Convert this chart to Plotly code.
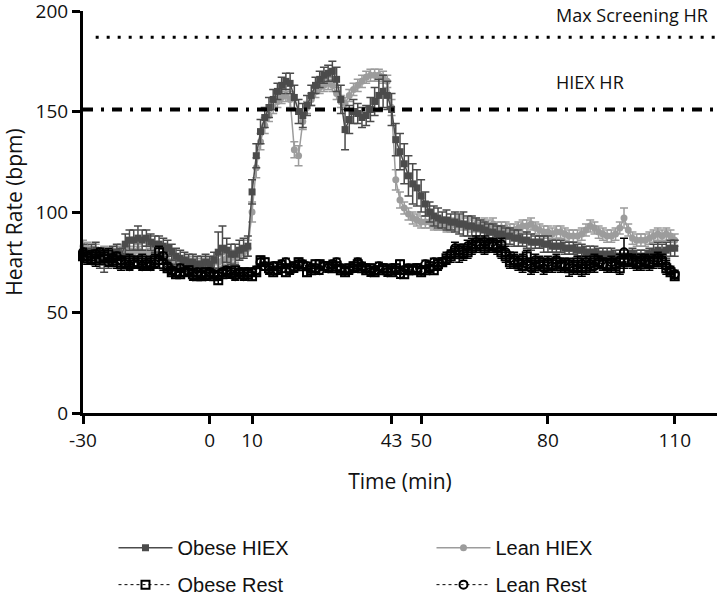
import plotly.graph_objects as go

# Time grid (minutes), 1-min samples from -30 to 110
time_min = list(range(-30, 111))

obese_hiex = [
    80, 78, 79, 81, 77, 75, 76, 79, 80, 78,
    84, 86, 86, 87, 86, 87, 85, 84, 84, 83,
    82, 80, 78, 77, 76, 75, 75, 74, 74, 75,
    74, 76, 80, 82, 81, 79, 79, 81, 82, 83,
    110, 128, 140, 147, 152, 156, 160, 163, 165, 164,
    157, 150, 148, 153, 158, 163, 166, 168, 169, 170,
    166, 156, 141, 146, 150, 149, 147, 148, 151, 155,
    158, 160, 158, 151, 136, 130, 124, 118, 114, 112,
    108, 104, 100, 98, 97, 96, 96, 95, 95, 94,
    94, 93, 93, 92, 92, 91, 90, 90, 89, 89,
    88, 88, 87, 87, 86, 86, 85, 85, 85, 84,
    84, 83, 83, 83, 82, 82, 82, 81, 81, 80,
    80, 80, 79, 79, 79, 79, 78, 78, 78, 78,
    79, 78, 78, 78, 79, 80, 81, 80, 81, 82, 82,
]
obese_hiex_err = [
    4, 4, 5, 4, 5, 5, 4, 4, 4, 4,
    5, 5, 5, 6, 5, 4, 4, 4, 4, 4,
    4, 4, 4, 4, 4, 4, 4, 4, 4, 4,
    4, 4, 10, 11, 6, 5, 5, 5, 5, 5,
    6, 6, 6, 5, 5, 5, 4, 4, 4, 5,
    6, 6, 6, 5, 5, 4, 4, 4, 4, 5,
    6, 7, 10, 7, 6, 5, 5, 5, 6, 7,
    8, 8, 7, 8, 8, 9, 10, 10, 10, 9,
    8, 6, 5, 5, 5, 4, 5, 4, 5, 5,
    6, 5, 5, 5, 4, 4, 4, 4, 4, 4,
    4, 4, 4, 4, 3, 4, 4, 3, 3, 4,
    4, 3, 3, 3, 3, 3, 3, 3, 3, 3,
    3, 3, 3, 3, 3, 3, 3, 3, 3, 3,
    3, 3, 3, 3, 3, 4, 4, 4, 4, 4, 4,
]
lean_hiex = [
    83, 82, 80, 81, 79, 80, 78, 79, 80, 81,
    80, 79, 80, 81, 80, 80, 79, 80, 79, 77,
    76, 75, 75, 74, 74, 75, 74, 74, 73, 74,
    74, 75, 75, 76, 77, 77, 78, 79, 80, 82,
    100, 122, 135, 143, 148, 152, 155, 157, 158, 156,
    131, 128, 145, 152, 156, 160, 162, 163, 164, 163,
    159, 155, 154, 158, 161, 163, 165, 167, 168, 168,
    168, 167, 165, 152, 116, 106, 102, 99, 97, 96,
    95, 95, 95, 94, 94, 94, 93, 93, 94, 95,
    94, 94, 93, 94, 93, 94, 93, 94, 92, 92,
    92, 91, 91, 92, 93, 93, 94, 92, 91, 90,
    90, 89, 90, 90, 89, 88, 88, 88, 89, 91,
    93, 92, 90, 89, 88, 88, 89, 92, 97, 91,
    87, 86, 86, 86, 87, 88, 89, 88, 89, 88, 86,
]
lean_hiex_err = [
    3, 3, 3, 3, 3, 3, 3, 3, 3, 3,
    3, 3, 3, 3, 3, 3, 3, 3, 3, 3,
    3, 3, 3, 3, 3, 3, 3, 3, 3, 3,
    3, 3, 3, 3, 3, 3, 3, 3, 3, 4,
    5, 5, 4, 4, 3, 3, 3, 3, 3, 4,
    4, 5, 4, 3, 3, 3, 3, 3, 3, 3,
    3, 3, 3, 3, 3, 3, 3, 3, 3, 3,
    3, 3, 3, 4, 5, 4, 3, 3, 3, 3,
    3, 3, 3, 3, 3, 3, 3, 3, 3, 3,
    3, 3, 3, 3, 3, 3, 3, 3, 3, 3,
    3, 3, 3, 3, 3, 3, 3, 3, 3, 3,
    3, 3, 3, 3, 3, 3, 3, 3, 3, 3,
    3, 3, 3, 3, 3, 3, 3, 3, 5, 3,
    3, 3, 3, 3, 3, 3, 3, 3, 3, 3, 3,
]
obese_rest = [
    78, 77, 78, 76, 77, 78, 79, 76, 75, 74,
    75, 76, 75, 75, 76, 74, 75, 76, 80, 74,
    72, 70, 69, 69, 70, 71, 69, 68, 68, 70,
    69, 68, 66, 69, 70, 70, 71, 69, 70, 69,
    68, 70, 76, 75, 72, 70, 73, 72, 70, 72,
    73, 75, 73, 70, 71, 74, 74, 73, 73, 72,
    73, 71, 70, 72, 73, 74, 72, 71, 72, 70,
    71, 72, 71, 70, 72, 74, 69, 71, 71, 72,
    70, 71, 73, 71, 74, 75, 77, 78, 80, 79,
    81, 80, 82, 83, 84, 82, 83, 84, 83, 80,
    78, 75, 76, 74, 76, 78, 74, 73, 75, 74,
    73, 74, 75, 73, 74, 72, 73, 75, 72, 72,
    73, 76, 75, 74, 74, 73, 74, 72, 75, 76,
    76, 75, 74, 76, 75, 75, 76, 75, 72, 70, 68,
]
obese_rest_err = [
    3, 3, 3, 3, 3, 3, 3, 3, 3, 3,
    3, 3, 3, 3, 3, 3, 3, 3, 3, 3,
    2, 2, 2, 2, 2, 2, 2, 2, 2, 2,
    2, 2, 2, 2, 2, 2, 2, 2, 2, 2,
    2, 2, 2, 2, 2, 2, 2, 2, 2, 2,
    2, 2, 2, 2, 2, 2, 2, 2, 2, 2,
    2, 2, 2, 2, 2, 2, 2, 2, 2, 2,
    2, 2, 2, 2, 2, 2, 2, 2, 2, 2,
    2, 2, 2, 2, 2, 2, 3, 3, 3, 4,
    3, 3, 3, 3, 3, 3, 3, 3, 3, 3,
    3, 3, 4, 3, 3, 3, 3, 3, 3, 3,
    3, 3, 3, 3, 3, 4, 3, 3, 4, 3,
    3, 3, 3, 3, 3, 3, 3, 3, 3, 3,
    3, 3, 3, 3, 3, 3, 3, 3, 3, 2, 2,
]
lean_rest = [
    80, 78, 76, 79, 80, 77, 75, 77, 78, 76,
    74, 73, 74, 74, 73, 74, 73, 74, 76, 78,
    73, 71, 70, 72, 70, 70, 68, 70, 69, 68,
    70, 69, 68, 70, 71, 69, 68, 70, 68, 70,
    70, 71, 75, 73, 71, 73, 71, 74, 75, 71,
    72, 74, 74, 73, 72, 72, 71, 73, 72, 74,
    75, 72, 71, 71, 72, 75, 73, 72, 70, 71,
    73, 72, 70, 72, 71, 69, 71, 72, 71, 72,
    71, 74, 72, 75, 73, 75, 76, 79, 82, 81,
    79, 83, 84, 85, 84, 85, 84, 83, 82, 84,
    80, 77, 76, 75, 73, 74, 72, 76, 74, 72,
    75, 73, 76, 74, 73, 74, 72, 72, 74, 75,
    74, 73, 75, 74, 73, 75, 74, 76, 80, 76,
    75, 74, 76, 75, 74, 76, 77, 76, 73, 71, 69,
]
lean_rest_err = [
    2, 2, 2, 2, 2, 2, 2, 2, 2, 2,
    2, 2, 2, 2, 2, 2, 2, 2, 2, 2,
    2, 2, 2, 2, 2, 2, 2, 2, 2, 2,
    2, 2, 2, 2, 2, 2, 2, 2, 2, 2,
    2, 2, 2, 2, 2, 2, 2, 2, 2, 2,
    2, 2, 2, 2, 2, 2, 2, 2, 2, 2,
    2, 2, 2, 2, 2, 2, 2, 2, 2, 2,
    2, 2, 2, 2, 2, 2, 2, 2, 2, 2,
    2, 2, 2, 2, 2, 2, 2, 2, 3, 3,
    3, 3, 3, 3, 3, 3, 3, 3, 3, 3,
    3, 3, 3, 3, 3, 3, 3, 3, 3, 3,
    3, 3, 3, 3, 3, 3, 3, 3, 3, 3,
    3, 3, 3, 3, 3, 3, 3, 3, 7, 3,
    3, 3, 3, 3, 3, 3, 3, 3, 3, 2, 2,
]

x_tick_vals = [-30, 0, 10, 43, 50, 80, 110]
x_tick_text = ["-30", "0", "10", "43", "50", "80", "110"]
y_tick_vals = [0, 50, 100, 150, 200]

max_screening_hr = 187
hiex_hr = 151

DARK = "#4b4b4b"
LIGHT = "#9c9c9c"
TXT = "#111111"

fig = go.Figure()

fig.add_trace(go.Scatter(
    x=time_min, y=lean_hiex, name="Lean HIEX", mode="lines+markers",
    line=dict(color=LIGHT, width=1.5),
    marker=dict(symbol="circle", size=7, color=LIGHT),
    error_y=dict(type="data", array=lean_hiex_err, color=LIGHT, thickness=1.5, width=4),
    cliponaxis=False, legend="legend", legendrank=2,
))
fig.add_trace(go.Scatter(
    x=time_min, y=obese_hiex, name="Obese HIEX", mode="lines+markers",
    line=dict(color=DARK, width=1.5),
    marker=dict(symbol="square", size=7, color=DARK),
    error_y=dict(type="data", array=obese_hiex_err, color=DARK, thickness=1.5, width=4),
    cliponaxis=False, legend="legend", legendrank=1,
))
fig.add_trace(go.Scatter(
    x=time_min, y=lean_rest, name="Lean Rest", mode="lines+markers",
    line=dict(color="black", width=1, dash="3px,3px"),
    marker=dict(symbol="circle-open", size=8, color="black", line=dict(width=2, color="black")),
    error_y=dict(type="data", array=lean_rest_err, color="black", thickness=1.5, width=4),
    cliponaxis=False, legend="legend2", legendrank=2,
))
fig.add_trace(go.Scatter(
    x=time_min, y=obese_rest, name="Obese Rest", mode="lines+markers",
    line=dict(color="black", width=1, dash="3px,3px"),
    marker=dict(symbol="square-open", size=8, color="black", line=dict(width=2, color="black")),
    error_y=dict(type="data", array=obese_rest_err, color="black", thickness=1.5, width=4),
    cliponaxis=False, legend="legend2", legendrank=1,
))

# Reference lines
fig.add_shape(type="line", xref="x", yref="y", x0=-27, x1=120,
              y0=max_screening_hr, y1=max_screening_hr,
              line=dict(color="black", width=3, dash="3px,8px"))
fig.add_shape(type="line", xref="x", yref="y", x0=-30, x1=120,
              y0=hiex_hr, y1=hiex_hr,
              line=dict(color="black", width=4, dash="10px,8px,3px,8px"))

fig.add_annotation(x=0.866, xref="paper", xanchor="center", y=198, yref="y",
                   text="Max Screening HR", showarrow=False,
                   font=dict(family="Open Sans", size=18, color=TXT))
fig.add_annotation(x=0.80, xref="paper", xanchor="center", y=164.5, yref="y",
                   text="HIEX HR", showarrow=False,
                   font=dict(family="Open Sans", size=18, color=TXT))

tick_font = dict(family="Open Sans", size=19, color=TXT)
title_font = dict(family="Open Sans", size=21, color=TXT)

leg_common = dict(orientation="h", x=0.0481, xanchor="left", yanchor="middle",
                  entrywidth=249, entrywidthmode="pixels", itemwidth=54,
                  font=dict(family="Liberation Sans", size=20, color=TXT),
                  bgcolor="rgba(0,0,0,0)")

fig.update_layout(
    width=720, height=600,
    margin=dict(l=83, r=3, t=11, b=187, autoexpand=False),
    paper_bgcolor="white", plot_bgcolor="white",
    showlegend=True,
    legend=dict(y=-0.335, **leg_common),
    legend2=dict(y=-0.427, **leg_common),
    xaxis=dict(range=[-30, 120], tickvals=x_tick_vals, ticktext=x_tick_text,
               showline=True, linewidth=3, linecolor="black", mirror=False,
               ticks="outside", ticklen=8, tickwidth=3, tickcolor="black",
               showgrid=False, zeroline=False, tickfont=tick_font,
               title=dict(text="Time (min)", font=title_font, standoff=23),
               automargin=False, ticklabeloverflow="allow"),
    yaxis=dict(range=[0, 200], tickvals=y_tick_vals,
               showline=True, linewidth=3, linecolor="black",
               ticks="outside", ticklen=8, tickwidth=3, tickcolor="black",
               showgrid=False, zeroline=False, tickfont=tick_font,
               title=dict(text="Heart Rate (bpm)", font=title_font, standoff=10),
               automargin=False, ticklabeloverflow="allow"),
)

fig.write_html("out.html", config={"displayModeBar": False},
               post_script="document.body.style.margin='0px';")
